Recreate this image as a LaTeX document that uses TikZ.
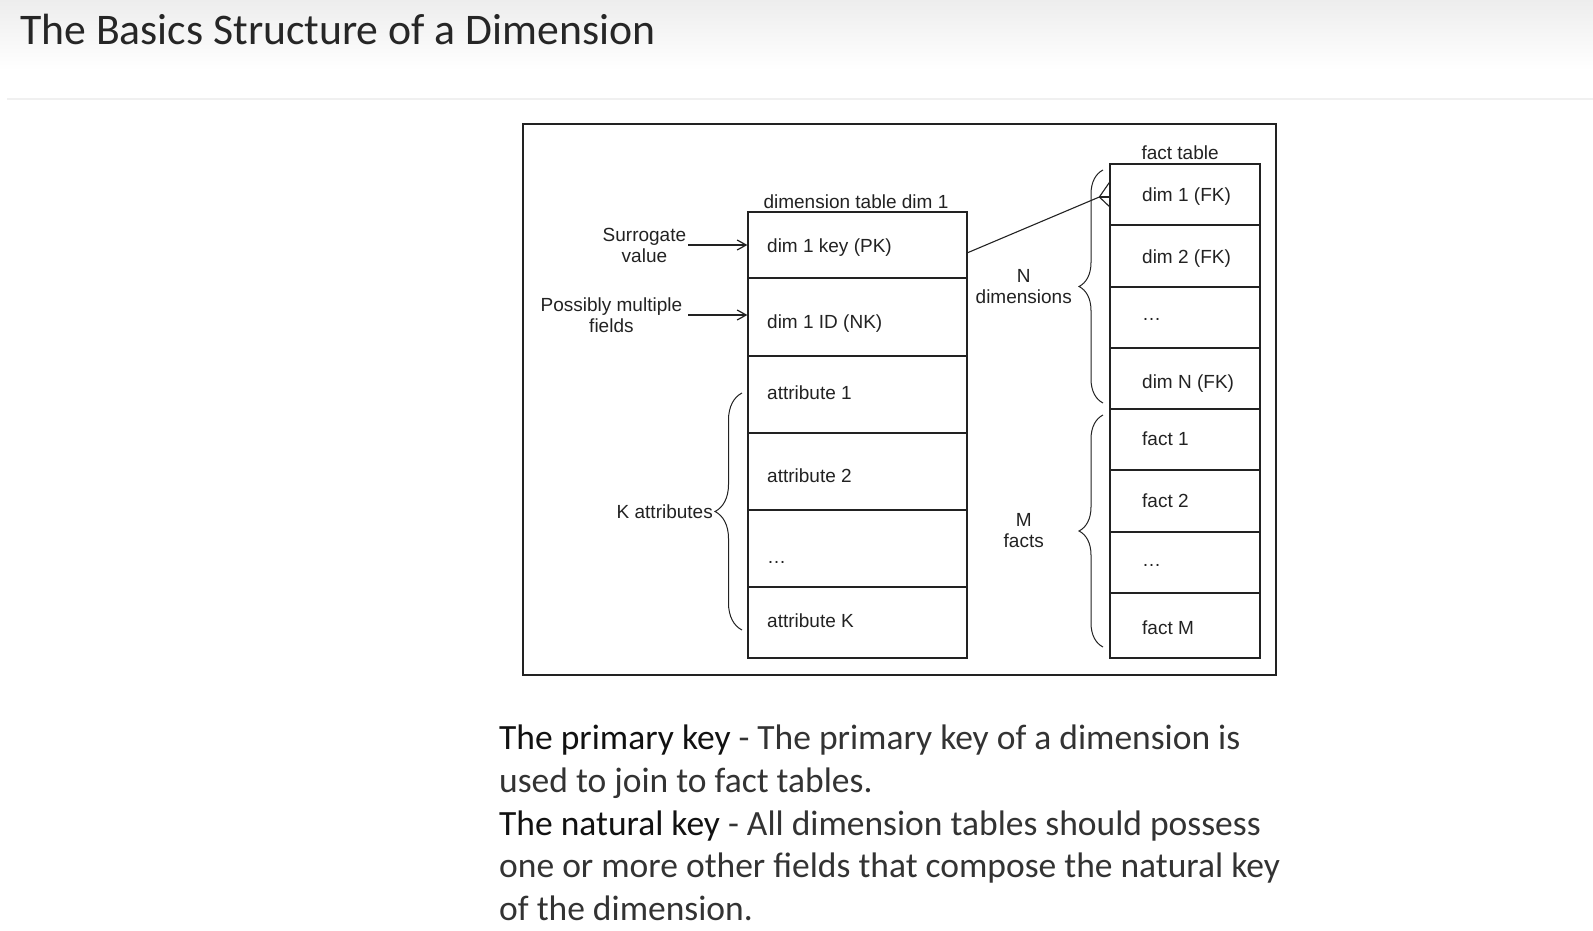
\documentclass[tikz,border=0pt]{standalone}
\usepackage{fontspec}
\setmainfont{Carlito}
\newfontfamily\diagfont{Liberation Sans}
\usetikzlibrary{positioning,arrows.meta,decorations.pathreplacing}

\definecolor{inkgray}{HTML}{222222}
\definecolor{bodygray}{HTML}{333333}
\definecolor{keyink}{HTML}{111111}

\begin{document}
\begin{tikzpicture}[x=1pt,y=-1pt,
    diagtext/.style={font=\diagfont\fontsize{19}{21}\selectfont, text=inkgray, inner sep=2pt},
    celltext/.style={diagtext, inner sep=0pt, anchor=west, yshift=-3pt},
    dimcell/.style={draw=inkgray, line width=1.3pt, minimum height=#1, minimum width=219pt, inner sep=0pt},
    factcell/.style={dimcell=#1, minimum width=150pt},
    feed/.style={draw=inkgray, line width=1.2pt, -{Straight Barb[length=9pt,width=10pt]}},
    link/.style={draw=inkgray, line width=1.1pt},
    curly/.style={draw=inkgray, line width=1pt, decorate, decoration={brace, amplitude=#1}},
    body/.style={font=\fontsize{35.5}{42}\selectfont, text=bodygray, inner sep=0pt, anchor=base west}]
  \useasboundingbox (0,0) rectangle (1593,931);
  %Slide header
  \fill[top color=gray!14, bottom color=white] (0,0) rectangle (1593,70);
  \draw[gray!12, line width=2pt] (7,99) -- (1593,99);
  \node[anchor=base west, inner sep=0pt, text=black!85, font=\fontsize{43.7}{50}\selectfont] (title) at (20,45) {The Basics Structure of a Dimension};
  %Frame
  \draw[inkgray, line width=1.6pt] (523,124) rectangle (1276,675);
  %Dimension table
  \foreach \name/\ya/\yb/\yt/\txt in {pk/212/278/245/dim 1 key (PK), nk/278/356/321/dim 1 ID (NK), attra/356/433/392/attribute 1, attrb/433/510/475.5/attribute 2, attrc/510/587/556/\dots, attrk/587/658/620/attribute K}{
    \node[dimcell={(\yb-\ya)*1pt}] (\name) at (857.5,{(\ya+\yb)/2}) {};
    \node[celltext] (\name-txt) at (767,\yt) {\strut\txt};
  }
  \node[diagtext, anchor=base west, inner sep=0pt] (dimhead) at ([xshift=16pt,yshift=3pt]pk.north west) {dimension table dim 1};
  %Fact table
  \foreach \name/\ya/\yb/\yt/\txt in {fk1/164/225/194/dim 1 (FK), fk2/225/287/256/dim 2 (FK), fkd/287/348/313/\dots, fkn/348/409/381/dim N (FK), fct1/409/470/438/fact 1, fct2/470/532/500/fact 2, fctd/532/593/559/\dots, fctm/593/658/627/fact M}{
    \node[factcell={(\yb-\ya)*1pt}] (\name) at (1185,{(\ya+\yb)/2}) {};
    \node[celltext] (\name-txt) at (1142,\yt) {\strut\txt};
  }
  \node[diagtext, anchor=base west, inner sep=0pt] (facthead) at ([xshift=32pt,yshift=4pt]fk1.north west) {fact table};
  %Key labels
  \node[diagtext, align=center, left=59pt of pk] (surr) {Surrogate\\value};
  \node[diagtext, align=center, anchor=east] (poss) at ([xshift=-63pt,yshift=2pt]nk.west) {Possibly multiple\\fields};
  \draw[feed] (surr) -- (pk);
  \draw[feed] ([xshift=4pt]poss.east) -- (poss.east -| nk.west);
  %Braces
  \coordinate (ktip) at (715,511.5);
  \coordinate (ntip) at (1079,286.5);
  \coordinate (mtip) at (1079,531);
  \draw[curly=27pt] (742,630) -- (742,393);
  \draw[curly=24pt] (1103,403) -- (1103,170);
  \draw[curly=24pt] (1103,647) -- (1103,415);
  \node[diagtext, left=0pt of ktip] (kattr) {K attributes};
  \node[diagtext, align=center, left=5pt of ntip] (ndims) {N\\dimensions};
  \node[diagtext, align=center] (mfacts) at (ndims |- mtip) {M\\facts};
  %Crow's foot link
  \coordinate (crow) at ([xshift=-10pt,yshift=-2.5pt]fk1.west);
  \draw[link] (pk.-4) -- (crow);
  \draw[link] (crow) -- (crow -| fk1.west);
  \foreach \s in {12,-12}
    \draw[link] (crow) -- ([yshift=\s pt]fk1.west);
  %Notes
  \node[body] (note1) at (499,749.5) {\textcolor{keyink}{The primary key} - The primary key of a dimension is};
  \node[body] (note2) at (499,792) {used to join to fact tables.};
  \node[body] (note3) at (499,835) {\textcolor{keyink}{The natural key} - All dimension tables should possess};
  \node[body] (note4) at (499,877.5) {one or more other fields that compose the natural key};
  \node[body] (note5) at (499,920) {of the dimension.};
\end{tikzpicture}
\end{document}
